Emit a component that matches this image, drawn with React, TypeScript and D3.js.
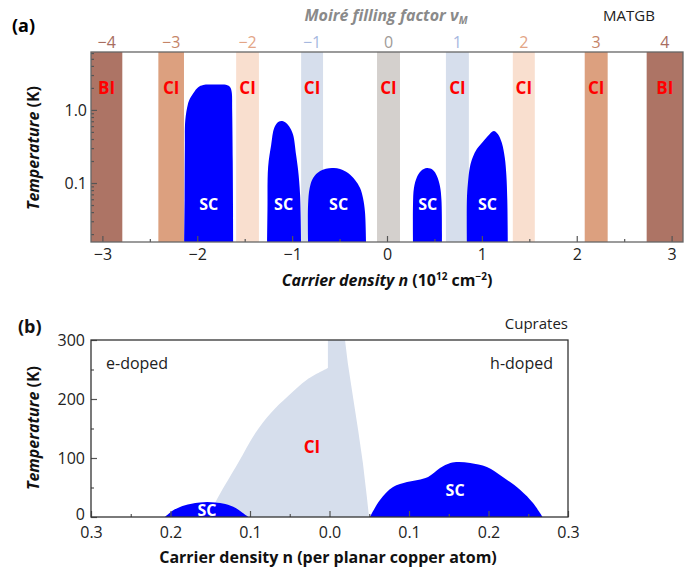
import React from "react";
import * as d3 from "d3";

const FONT = "'Open Sans', 'Noto Sans', sans-serif";

// ---- panel (a): MATGB ----
const fillingFactors = ["−4", "−3", "−2", "−1", "0", "1", "2", "3", "4"];
const phaseKinds = ["BI", "CI", "CI", "CI", "CI", "CI", "CI", "CI", "BI"];
const bandFrom = [-3.12, -2.41, -1.59, -0.905, -0.105, 0.621, 1.326, 2.084, 2.737];
const bandTo = [-2.79, -2.14, -1.35, -0.674, 0.137, 0.863, 1.558, 2.326, 3.12];
const bandFill = ["#ad7465", "#dca07f", "#f9dfcf", "#d6deec", "#d4d0cd", "#d6deec", "#f9dfcf", "#dca07f", "#ad7465"];
const fillingColor = ["#a86d5f", "#c58467", "#e3a586", "#a6b8df", "#a09b98", "#a6b8df", "#e3a586", "#c58467", "#a86d5f"];

const domeA1: [number, number][] = [
  [-2.137, 0.015], [-2.134, 0.06], [-2.131, 0.3], [-2.126, 0.73], [-2.1, 1.18], [-2.084, 1.37],
  [-2.04, 1.71], [-1.99, 2.05], [-1.937, 2.2], [-1.8, 2.22], [-1.684, 2.18], [-1.653, 2.05],
  [-1.637, 1.76], [-1.632, 1.0], [-1.626, 0.2], [-1.621, 0.015],
];
const domeA2: [number, number][] = [
  [-1.264, 0.015], [-1.26, 0.043], [-1.253, 0.166], [-1.221, 0.33], [-1.189, 0.567], [-1.147, 0.685],
  [-1.105, 0.707], [-1.063, 0.664], [-1.021, 0.567], [-0.989, 0.455], [-0.958, 0.242], [-0.937, 0.151],
  [-0.916, 0.0685], [-0.905, 0.015],
];
const domeA3: [number, number][] = [
  [-0.832, 0.015], [-0.832, 0.05], [-0.815, 0.0855], [-0.779, 0.117], [-0.705, 0.146], [-0.58, 0.16],
  [-0.495, 0.156], [-0.411, 0.137], [-0.337, 0.11], [-0.284, 0.0855], [-0.253, 0.0623], [-0.232, 0.04],
  [-0.221, 0.015],
];
const domeA4: [number, number][] = [
  [0.274, 0.015], [0.274, 0.05], [0.284, 0.0855], [0.316, 0.121], [0.358, 0.146], [0.421, 0.16],
  [0.484, 0.151], [0.526, 0.125], [0.558, 0.091], [0.574, 0.0585], [0.579, 0.015],
];
const domeA5: [number, number][] = [
  [0.842, 0.015], [0.842, 0.0585], [0.853, 0.1], [0.874, 0.166], [0.905, 0.227], [0.947, 0.292],
  [1.0, 0.353], [1.063, 0.44], [1.126, 0.516], [1.168, 0.469], [1.211, 0.353], [1.242, 0.22],
  [1.258, 0.129], [1.268, 0.0585], [1.274, 0.015],
];
const domesA = [domeA1, domeA2, domeA3, domeA4, domeA5];
const scLabelA = [-1.88, -1.09, -0.51, 0.43, 1.06];

const xTicksA = [-3, -2, -1, 0, 1, 2, 3];
const xMinorA = [-2.5, -1.5, -0.5, 0.5, 1.5, 2.5];
const yTicksA = [0.1, 1];
const yMinorA = [0.02, 0.03, 0.04, 0.05, 0.06, 0.07, 0.08, 0.09, 0.2, 0.3, 0.4, 0.5, 0.6, 0.7, 0.8, 0.9, 2, 3, 4, 5, 6];

// ---- panel (b): cuprates ----
// left (rising) edge of the CI region, then the spike and the falling right edge
const ciLeftEdge: [number, number][] = [
  [-0.153, 0], [-0.14, 33.9], [-0.115, 91.5], [-0.093, 143], [-0.074, 176], [-0.052, 205],
  [-0.028, 233], [-0.002, 252.5],
];
const ciRightEdge: [number, number][] = [
  [-0.002, 252.5], [-0.002, 300], [0.0195, 300], [0.023, 261], [0.0296, 203],
  [0.036, 147.5], [0.042, 91.5], [0.047, 33.9], [0.0497, 0],
];
const scLeft: [number, number][] = [
  [-0.207, 0], [-0.198, 10.2], [-0.188, 16.9], [-0.175, 22], [-0.163, 24.6], [-0.154, 25.4],
  [-0.144, 24.6], [-0.131, 22], [-0.118, 15.3], [-0.109, 6.8], [-0.102, 0],
];
const scRight: [number, number][] = [
  [0.0509, 0], [0.0635, 28.8], [0.0799, 50.8], [0.0975, 59.3], [0.111, 62.7], [0.124, 67.8],
  [0.139, 83], [0.152, 91.5], [0.162, 93.2], [0.177, 91.5], [0.198, 84.7], [0.218, 67.8],
  [0.24, 45.8], [0.256, 23.7], [0.268, 0],
];
const xTicksB = [-0.3, -0.2, -0.1, 0, 0.1, 0.2, 0.3];
const xMinorB = [-0.25, -0.15, -0.05, 0.05, 0.15, 0.25];
const yTicksB = [0, 100, 200, 300];
const yMinorB = [50, 150, 250];

type Sel = d3.Selection<SVGSVGElement, unknown, null, undefined>;

function styleAxis(g: d3.Selection<SVGGElement, unknown, null, undefined>, size: number) {
  g.select(".domain").remove();
  g.selectAll(".tick line").attr("stroke", "#555").attr("stroke-width", 1.2);
  g.selectAll(".tick text").attr("font-family", FONT).attr("font-size", size).attr("fill", "#222");
}

function drawA(svg: Sel) {
  const L = 91, R = 683, T = 52, B = 242;
  const x = d3.scaleLinear().domain([-3.12, 3.12]).range([L, R]);
  const y = d3.scaleLog().domain([0.0156, 6.2]).range([B, T]);

  svg.append("clipPath").attr("id", "clipA")
    .append("rect").attr("x", L).attr("y", T).attr("width", R - L).attr("height", B - T);
  const plot = svg.append("g").attr("clip-path", "url(#clipA)");

  plot.selectAll("rect.band")
    .data(bandFrom.map((f, i) => ({ f, t: bandTo[i], i })))
    .join("rect")
    .attr("x", d => x(d.f)).attr("width", d => x(d.t) - x(d.f))
    .attr("y", T).attr("height", B - T)
    .attr("fill", d => bandFill[d.i]);

  const line = d3.line<[number, number]>()
    .x(d => x(d[0])).y(d => y(d[1]))
    .curve(d3.curveCatmullRom.alpha(0.5));
  plot.selectAll("path.dome").data(domesA).join("path")
    .attr("d", d => line(d) + "Z").attr("fill", "#0000ff");

  // phase labels
  svg.append("g").selectAll("text").data(phaseKinds).join("text")
    .attr("x", (d, i) => x((bandFrom[i] + bandTo[i]) / 2)).attr("y", y(2.0))
    .attr("text-anchor", "middle").attr("dominant-baseline", "central")
    .attr("font-family", FONT).attr("font-weight", 700).attr("font-size", 17)
    .attr("fill", "#ff0000").text(d => d);

  svg.append("g").selectAll("text").data(scLabelA).join("text")
    .attr("x", d => x(d)).attr("y", y(0.0515))
    .attr("text-anchor", "middle").attr("dominant-baseline", "central")
    .attr("font-family", FONT).attr("font-weight", 700).attr("font-size", 16)
    .attr("fill", "#fff").text("SC");

  // filling factors on top
  svg.append("g").selectAll("text").data(fillingFactors).join("text")
    .attr("x", (d, i) => x((bandFrom[i] + bandTo[i]) / 2)).attr("y", 42)
    .attr("text-anchor", "middle").attr("dominant-baseline", "central")
    .attr("font-family", FONT).attr("font-size", 16)
    .attr("fill", (d, i) => fillingColor[i]).text(d => d);

  // axes
  const gx = svg.append("g").attr("transform", `translate(0,${B})`)
    .call(d3.axisBottom(x).tickValues(xTicksA).tickSizeInner(-6).tickSizeOuter(0).tickPadding(7)
      .tickFormat(d3.format("d")));
  styleAxis(gx, 16);
  const gxm = svg.append("g").attr("transform", `translate(0,${B})`)
    .call(d3.axisBottom(x).tickValues(xMinorA).tickSizeInner(-3).tickSizeOuter(0).tickFormat(() => ""));
  styleAxis(gxm, 16);
  const gy = svg.append("g").attr("transform", `translate(${L},0)`)
    .call(d3.axisLeft(y).tickValues(yTicksA).tickSizeInner(-6).tickSizeOuter(0).tickPadding(4)
      .tickFormat(d => (+d === 1 ? "1.0" : "0.1")));
  styleAxis(gy, 16);
  const gym = svg.append("g").attr("transform", `translate(${L},0)`)
    .call(d3.axisLeft(y).tickValues(yMinorA).tickSizeInner(-3).tickSizeOuter(0).tickFormat(() => ""));
  styleAxis(gym, 16);

  svg.append("rect").attr("x", L).attr("y", T).attr("width", R - L).attr("height", B - T)
    .attr("fill", "none").attr("stroke", "#666").attr("stroke-width", 1.3);

  // titles
  svg.append("text").attr("x", 12).attr("y", 25).attr("dominant-baseline", "central")
    .attr("font-family", FONT).attr("font-weight", 700).attr("font-size", 18).text("(a)");

  const mt = svg.append("text").attr("x", 386).attr("y", 15).attr("text-anchor", "middle")
    .attr("dominant-baseline", "central").attr("font-family", FONT).attr("font-weight", 700)
    .attr("font-style", "italic").attr("font-size", 16).attr("fill", "#8a8a8a");
  mt.append("tspan").text("Moiré filling factor ν");
  mt.append("tspan").attr("dy", 5).attr("font-size", 10).text("M");

  svg.append("text").attr("x", 629).attr("y", 15).attr("text-anchor", "middle")
    .attr("dominant-baseline", "central").attr("font-family", FONT).attr("font-size", 15)
    .attr("fill", "#222").text("MATGB");

  const xt = svg.append("text").attr("x", 387).attr("y", 286).attr("text-anchor", "middle")
    .attr("font-family", FONT).attr("font-weight", 700).attr("font-size", 16).attr("fill", "#111");
  xt.append("tspan").attr("font-style", "italic").text("Carrier density n");
  xt.append("tspan").text(" (10");
  xt.append("tspan").attr("dy", -6).attr("font-size", 10).text("12");
  xt.append("tspan").attr("dy", 6).text(" cm");
  xt.append("tspan").attr("dy", -6).attr("font-size", 10).text("−2");
  xt.append("tspan").attr("dy", 6).text(")");

  const yt = svg.append("text").attr("transform", `translate(33,148) rotate(-90)`)
    .attr("text-anchor", "middle").attr("dominant-baseline", "central")
    .attr("font-family", FONT).attr("font-weight", 700).attr("font-size", 16).attr("fill", "#111");
  yt.append("tspan").attr("font-style", "italic").text("Temperature");
  yt.append("tspan").text(" (K)");
}

function drawB(svg: Sel) {
  const L = 91, R = 568, T = 340, B = 517;
  const x = d3.scaleLinear().domain([-0.3, 0.3]).range([L, R]);
  const y = d3.scaleLinear().domain([0, 300]).range([B, T]);

  svg.append("clipPath").attr("id", "clipB")
    .append("rect").attr("x", L).attr("y", T).attr("width", R - L).attr("height", B - T);
  const plot = svg.append("g").attr("clip-path", "url(#clipB)");

  const lin = d3.line<[number, number]>().x(d => x(d[0])).y(d => y(d[1]));
  const smooth = d3.line<[number, number]>().x(d => x(d[0])).y(d => y(d[1]))
    .curve(d3.curveCatmullRom.alpha(0.5));

  const ciPath = smooth(ciLeftEdge)! + (lin(ciRightEdge) || "").replace(/^M/, "L") + "Z";
  plot.append("path").attr("d", ciPath).attr("fill", "#d6deec");
  plot.append("path").attr("d", smooth(scLeft) + "Z").attr("fill", "#0000ff");
  plot.append("path").attr("d", smooth(scRight) + "Z").attr("fill", "#0000ff");

  const gx = svg.append("g").attr("transform", `translate(0,${B})`)
    .call(d3.axisBottom(x).tickValues(xTicksB).tickSizeInner(-6).tickSizeOuter(0).tickPadding(10)
      .tickFormat(d => Math.abs(+d).toFixed(1)));
  styleAxis(gx, 16);
  const gxm = svg.append("g").attr("transform", `translate(0,${B})`)
    .call(d3.axisBottom(x).tickValues(xMinorB).tickSizeInner(-3).tickSizeOuter(0).tickFormat(() => ""));
  styleAxis(gxm, 16);
  const gy = svg.append("g").attr("transform", `translate(${L},0)`)
    .call(d3.axisLeft(y).tickValues(yTicksB).tickSizeInner(-6).tickSizeOuter(0).tickPadding(6));
  styleAxis(gy, 16);
  gy.selectAll<SVGTextElement, number>(".tick text").attr("dy", d => (d === 0 ? "0.15em" : "0.32em"));
  const gym = svg.append("g").attr("transform", `translate(${L},0)`)
    .call(d3.axisLeft(y).tickValues(yMinorB).tickSizeInner(-3).tickSizeOuter(0).tickFormat(() => ""));
  styleAxis(gym, 16);

  svg.append("rect").attr("x", L).attr("y", T).attr("width", R - L).attr("height", B - T)
    .attr("fill", "none").attr("stroke", "#333").attr("stroke-width", 1.3);

  const label = (tx: number, ty: number, s: string, fill: string, size: number, anchor = "middle", weight = 700) =>
    svg.append("text").attr("x", tx).attr("y", ty).attr("text-anchor", anchor)
      .attr("dominant-baseline", "central").attr("font-family", FONT)
      .attr("font-weight", weight).attr("font-size", size).attr("fill", fill).text(s);

  label(x(-0.154), y(12), "SC", "#fff", 16);
  label(x(0.158), y(45.8), "SC", "#fff", 16);
  label(x(-0.022), y(119), "CI", "#ff0000", 17);
  label(106, 363, "e-doped", "#222", 16, "start", 400);
  label(553, 363, "h-doped", "#222", 16, "end", 400);
  label(568, 323, "Cuprates", "#222", 15, "end", 400);
  label(18, 326, "(b)", "#111", 18, "start", 700);
  label(328, 557, "Carrier density n (per planar copper atom)", "#111", 16, "middle", 700);

  const yt = svg.append("text").attr("transform", `translate(33,428) rotate(-90)`)
    .attr("text-anchor", "middle").attr("dominant-baseline", "central")
    .attr("font-family", FONT).attr("font-weight", 700).attr("font-size", 16).attr("fill", "#111");
  yt.append("tspan").attr("font-style", "italic").text("Temperature");
  yt.append("tspan").text(" (K)");
}

export default function App() {
  const ref = React.useRef<SVGSVGElement>(null);
  React.useEffect(() => {
    const svg = d3.select(ref.current!) as Sel;
    svg.selectAll("*").remove();
    drawA(svg);
    drawB(svg);
  }, []);
  return (
    <svg ref={ref} width={693} height={569}
      style={{ position: "absolute", left: 0, top: 0, background: "#fff" }} />
  );
}
